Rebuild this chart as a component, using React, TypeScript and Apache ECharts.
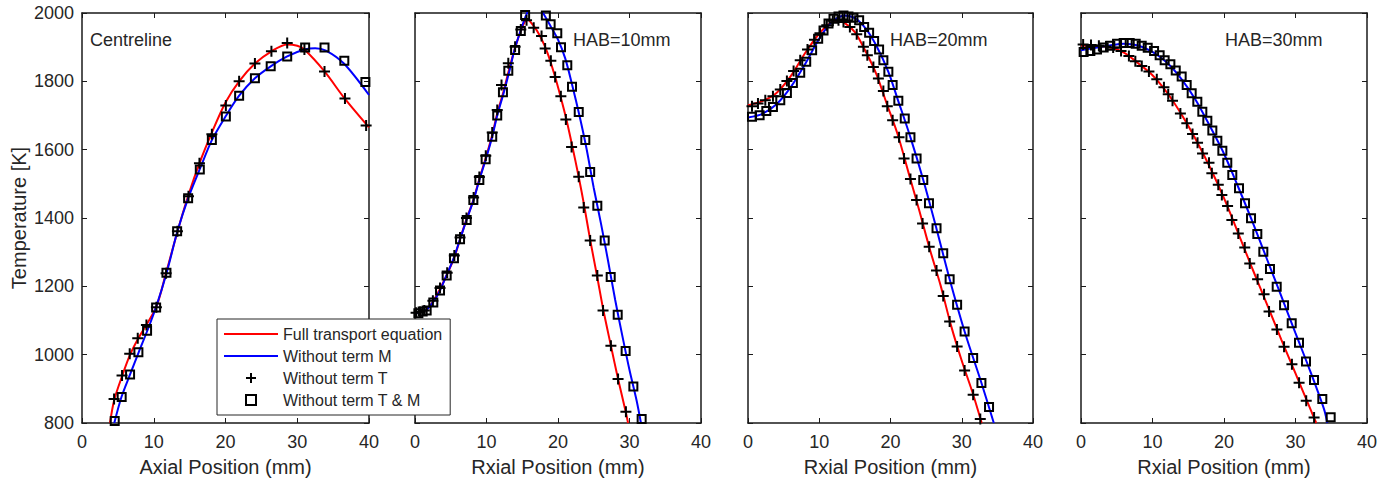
import { useEffect, useRef } from "react";
import * as echarts from "echarts";

const FONT = "'Liberation Sans', Arial, Helvetica, sans-serif";
const TEXT = "#262626";
const AXIS = "#1a1a1a";

const seriesNames = [
  "Full transport equation",
  "Without term M",
  "Without term T",
  "Without term T & M",
];
const panelTitles = ["Centreline", "HAB=10mm", "HAB=20mm", "HAB=30mm"];
const xAxisNames = [
  "Axial Position (mm)",
  "Rxial Position (mm)",
  "Rxial Position (mm)",
  "Rxial Position (mm)",
];
const yAxisName = "Temperature [K]";
const xRange = [0, 40];
const yRange = [800, 2000];

// ---- Centreline ----
const cRed = [[3.9,800],[4.5,868],[5.6,938],[6.7,1000],[7.8,1046],[9.0,1088],[10.4,1142],[11.7,1238],[13.3,1360],[14.8,1465],[16.4,1562],[18.1,1650],[20.0,1738],[21.9,1800],[24.1,1852],[26.4,1888],[28.6,1908],[30.0,1904],[31.0,1893],[33.8,1829],[36.6,1750],[40.0,1665]];
const cBlue = [[4.5,800],[5.5,876],[6.7,942],[7.9,1007],[9.1,1070],[10.3,1138],[11.8,1240],[13.3,1361],[14.8,1458],[16.4,1542],[18.1,1628],[20.0,1697],[21.9,1758],[24.1,1809],[26.3,1844],[28.6,1873],[31.0,1893],[32.5,1897],[34.0,1890],[36.5,1852],[40.0,1760]];
const cPlus = [[4.47,870],[5.58,939],[6.65,1003],[7.77,1048],[8.98,1087],[10.37,1139],[11.72,1238],[13.3,1361],[14.84,1464],[16.37,1560],[18.1,1645],[20.05,1729],[21.9,1800],[24.1,1852],[26.4,1888],[28.6,1912],[31.0,1893],[33.8,1829],[36.65,1750],[39.6,1671]];
const cSquare = [[4.56,806],[5.53,876],[6.7,942],[7.86,1007],[9.07,1070],[10.33,1138],[11.77,1240],[13.26,1361],[14.79,1458],[16.42,1542],[18.1,1628],[20.05,1697],[21.9,1758],[24.1,1809],[26.3,1844],[28.6,1873],[31.1,1899],[33.8,1899],[36.56,1860],[39.5,1798]];

// ---- HAB = 10 mm ----
const h10Red = [[0,1121],[1.5,1130],[2.5,1155],[3.5,1192],[4.5,1236],[5.5,1285],[6.3,1338],[7.2,1396],[8.2,1455],[9.0,1514],[9.9,1576],[10.8,1643],[11.5,1706],[12.4,1772],[13.2,1838],[14.0,1898],[14.8,1948],[15.7,1982],[16.5,1965],[17.5,1932],[18.5,1885],[19.5,1820],[20.4,1752],[21.2,1686],[22.0,1610],[22.9,1520],[23.7,1432],[24.5,1336],[25.5,1226],[26.3,1135],[27.4,1026],[28.4,929],[29.5,830],[29.8,800]];
const h10Blue = [[0,1121],[1.5,1130],[2.5,1153],[3.5,1188],[4.4,1232],[5.4,1282],[6.3,1338],[7.2,1394],[8.2,1453],[9.0,1511],[9.9,1572],[10.8,1638],[11.5,1700],[12.4,1766],[13.2,1830],[13.9,1891],[14.7,1944],[15.4,1986],[16.2,2020],[17.0,2025],[17.9,2000],[19.0,1960],[20.0,1922],[21.0,1868],[22.0,1788],[23.0,1700],[24.0,1602],[25.0,1488],[26.0,1385],[27.0,1275],[28.0,1160],[29.0,1055],[30.0,955],[31.0,865],[31.6,800]];
const h10Plus = [[0.15,1123],[0.7,1125],[1.3,1129],[2.5,1158],[3.5,1195],[4.5,1240],[5.5,1290],[6.3,1343],[7.2,1400],[8.2,1460],[9.0,1520],[9.9,1582],[10.8,1650],[11.5,1716],[12.1,1789],[13.05,1853],[14.0,1901],[14.8,1952],[15.6,1979],[16.6,1957],[17.7,1933],[18.2,1896],[19.0,1860],[19.6,1813],[20.4,1756],[21.1,1688],[21.9,1608],[22.9,1521],[23.6,1431],[24.5,1334],[25.5,1232],[26.3,1129],[27.4,1026],[28.4,929],[29.5,833]];
const h10Square = [[0.47,1121],[1.07,1126],[1.63,1129],[2.56,1153],[3.5,1188],[4.43,1232],[5.45,1282],[6.3,1338],[7.23,1394],[8.16,1453],[9.0,1511],[9.88,1572],[10.8,1638],[11.5,1700],[12.3,1768],[13.05,1831],[14.0,1892],[14.8,1947],[15.4,1994],[18.3,1993],[18.97,1967],[19.9,1941],[20.42,1900],[21.3,1847],[21.96,1784],[22.9,1710],[23.82,1628],[24.5,1535],[25.5,1436],[26.53,1334],[27.37,1227],[28.35,1117],[29.46,1011],[30.54,907],[31.7,812]];

// ---- HAB = 20 mm ----
const h20Red = [[0,1730],[2,1742],[4,1766],[6,1815],[8,1882],[10,1940],[11.5,1970],[12.5,1978],[13.5,1972],[15,1944],[16.5,1888],[18,1822],[19.5,1733],[21,1645],[22.5,1535],[24,1425],[25.5,1310],[27,1205],[28.5,1085],[30,982],[31.5,890],[32.8,800]];
const h20Blue = [[0,1694],[2,1705],[4,1733],[6,1783],[8,1850],[10,1925],[11.5,1968],[12.5,1985],[13.5,1993],[15,1985],[16.5,1955],[18,1905],[19.7,1828],[21,1748],[22.8,1636],[24.6,1511],[26.5,1365],[28.3,1221],[30.4,1068],[32.8,915],[34.5,800]];
const h20Plus = [[0.56,1727],[1.4,1735],[2.43,1745],[3.5,1756],[4.53,1776],[5.46,1801],[6.4,1830],[7.33,1862],[8.35,1893],[9.33,1922],[10.1,1941],[11.06,1964],[11.9,1977],[12.7,1979],[13.4,1974],[14.3,1959],[15.26,1938],[16.2,1901],[16.75,1876],[17.6,1842],[18.3,1808],[19.0,1772],[19.55,1727],[20.3,1686],[21.2,1636],[21.9,1574],[22.8,1514],[23.66,1453],[24.5,1384],[25.43,1316],[26.46,1246],[27.4,1172],[28.3,1097],[29.35,1024],[30.4,954],[31.6,883],[32.6,812]];
const h20Square = [[0.56,1696],[1.63,1701],[2.57,1713],[3.5,1725],[4.53,1745],[5.46,1766],[6.3,1795],[7.33,1825],[8.17,1857],[9.0,1891],[9.85,1925],[10.6,1949],[11.3,1969],[12.0,1983],[12.7,1990],[13.4,1993],[14.1,1990],[14.8,1986],[15.6,1979],[16.3,1959],[17.0,1942],[17.7,1918],[18.4,1893],[19.0,1862],[19.7,1828],[20.3,1789],[21.1,1743],[22.0,1691],[22.8,1636],[23.66,1574],[24.6,1511],[25.4,1443],[26.46,1370],[27.4,1297],[28.3,1221],[29.35,1146],[30.4,1068],[31.6,990],[32.76,917],[33.83,847]];

// ---- HAB = 30 mm ----
const h30Red = [[0,1905],[2,1904],[4,1900],[6,1884],[8,1853],[10,1818],[12,1768],[14,1705],[16,1632],[18,1550],[20,1458],[22,1355],[24,1250],[26,1148],[28,1045],[30,945],[32,845],[32.9,800]];
const h30Blue = [[0,1891],[2,1898],[4,1905],[6,1910],[8,1905],[10,1886],[12,1855],[14,1808],[16,1747],[18,1670],[20,1588],[22,1490],[24,1388],[26,1280],[28,1172],[30,1063],[32,955],[34,840],[34.45,800]];
const h30Plus = [[0.3,1908],[1.4,1906],[2.5,1904],[3.5,1902],[4.5,1899],[5.6,1889],[6.7,1874],[7.6,1859],[8.5,1845],[9.5,1829],[10.6,1806],[11.6,1783],[12.2,1762],[12.8,1743],[13.9,1706],[14.8,1677],[15.6,1646],[16.3,1620],[17.0,1589],[17.9,1562],[18.3,1531],[19.2,1497],[19.7,1467],[20.5,1435],[21.1,1394],[22.0,1355],[22.9,1314],[23.6,1267],[24.7,1221],[25.6,1177],[26.3,1126],[27.4,1074],[28.4,1023],[29.5,972],[30.5,918],[31.5,865],[32.6,816]];
const h30Square = [[0.37,1886],[1.31,1889],[2.24,1893],[3.17,1899],[4.1,1904],[5.04,1910],[5.97,1912],[6.81,1912],[7.65,1910],[8.49,1904],[9.33,1898],[10.22,1889],[11.0,1876],[11.7,1862],[12.5,1850],[13.25,1832],[14.08,1814],[14.78,1789],[15.48,1765],[16.27,1740],[16.97,1711],[17.67,1685],[18.37,1656],[19.07,1626],[19.77,1597],[20.46,1562],[21.16,1526],[22.1,1487],[22.94,1443],[23.78,1399],[24.66,1353],[25.5,1301],[26.43,1251],[27.37,1199],[28.4,1145],[29.47,1092],[30.49,1035],[31.47,980],[32.59,926],[33.75,870],[34.92,817]];

const panelData = [
  [cRed, cBlue, cPlus, cSquare],
  [h10Red, h10Blue, h10Plus, h10Square],
  [h20Red, h20Blue, h20Plus, h20Square],
  [h30Red, h30Blue, h30Plus, h30Square],
];

const PLUS = "path://M5,0V10M0,5H10";
const SQUARE = "path://M0,0H10V10H0Z";
const BAR = "path://M0,0H54V2H0Z";

export default function App() {
  const ref = useRef<HTMLDivElement>(null);
  useEffect(() => {
    if (!ref.current) return;
    const chart = echarts.init(ref.current, undefined, { renderer: "svg" });

    const lefts = [82, 415, 748, 1081];
    const widths = [287, 286, 285, 286];
    const titleLefts = [90, 573, 890, 1225];
    const top = 13;
    const height = 410;

    const grid: any[] = [];
    const xAxis: any[] = [];
    const yAxis: any[] = [];
    const series: any[] = [];
    const graphic: any[] = [];

    const tick = { show: true, inside: true, length: 5, lineStyle: { color: AXIS, width: 1 } };
    const line = { show: true, onZero: false, lineStyle: { color: AXIS, width: 1.5 } };
    const plain = (v: number) => String(v);

    for (let i = 0; i < 4; i++) {
      grid.push({ left: lefts[i], top, width: widths[i], height, show: false });
      xAxis.push({
        type: "value", gridIndex: i, position: "bottom", min: xRange[0], max: xRange[1], interval: 10,
        axisLine: line, axisTick: tick, splitLine: { show: false },
        axisLabel: { color: TEXT, fontSize: 18, fontFamily: FONT, margin: 10, formatter: plain },
        name: xAxisNames[i], nameLocation: "middle", nameGap: 34,
        nameTextStyle: { color: TEXT, fontSize: 20, fontFamily: FONT },
      });
      xAxis.push({
        type: "value", gridIndex: i, position: "top", min: xRange[0], max: xRange[1], interval: 10,
        axisLine: line, axisTick: tick, splitLine: { show: false }, axisLabel: { show: false },
      });
      yAxis.push({
        type: "value", gridIndex: i, position: "left", min: yRange[0], max: yRange[1], interval: 200,
        axisLine: line, axisTick: tick, splitLine: { show: false },
        axisLabel: { show: i === 0, color: TEXT, fontSize: 18, fontFamily: FONT, margin: 8, formatter: plain },
        name: i === 0 ? yAxisName : "", nameLocation: "middle", nameGap: 53,
        nameTextStyle: { color: TEXT, fontSize: 20, fontFamily: FONT },
      });
      yAxis.push({
        type: "value", gridIndex: i, position: "right", min: yRange[0], max: yRange[1], interval: 200,
        axisLine: line, axisTick: tick, splitLine: { show: false }, axisLabel: { show: false },
      });

      const [red, blue, plus, square] = panelData[i];
      const ax = { xAxisIndex: i * 2, yAxisIndex: i * 2 };
      series.push({
        ...ax, type: "line", name: seriesNames[0], data: red, symbol: "none", showSymbol: false, smooth: 0.3,
        lineStyle: { color: "#ff0000", width: 2 }, itemStyle: { color: "#ff0000" }, clip: true, z: 2,
      });
      series.push({
        ...ax, type: "line", name: seriesNames[1], data: blue, symbol: "none", showSymbol: false, smooth: 0.3,
        lineStyle: { color: "#0000ff", width: 2 }, itemStyle: { color: "#0000ff" }, clip: true, z: 2,
      });
      series.push({
        ...ax, type: "scatter", name: seriesNames[2], data: plus, symbol: PLUS, symbolSize: 11,
        itemStyle: { color: "transparent", borderColor: "#000", borderWidth: 2, opacity: 1 }, z: 3,
      });
      series.push({
        ...ax, type: "scatter", name: seriesNames[3], data: square, symbol: SQUARE, symbolSize: 8,
        itemStyle: { color: "transparent", borderColor: "#000", borderWidth: 2, opacity: 1 }, z: 3,
      });

      graphic.push({
        type: "text", left: titleLefts[i], top: 31, z: 10,
        style: { text: panelTitles[i], fontSize: 18, fontFamily: FONT, fill: TEXT },
      });
    }

    chart.setOption({
      animation: false,
      backgroundColor: "#ffffff",
      grid, xAxis, yAxis, series, graphic,
      legend: {
        show: true, left: 217, top: 319, orient: "vertical", z: 20,
        backgroundColor: "#ffffff", borderColor: TEXT, borderWidth: 1,
        padding: [7, 8, 7, 7], itemWidth: 54, itemHeight: 10, itemGap: 6,
        textStyle: { color: TEXT, fontSize: 16, fontFamily: FONT },
        data: [
          { name: seriesNames[0], icon: BAR, itemStyle: { color: "#ff0000", borderWidth: 0 } },
          { name: seriesNames[1], icon: BAR, itemStyle: { color: "#0000ff", borderWidth: 0 } },
          { name: seriesNames[2], icon: PLUS, itemStyle: { color: "transparent", borderColor: "#000", borderWidth: 2 } },
          { name: seriesNames[3], icon: SQUARE, itemStyle: { color: "transparent", borderColor: "#000", borderWidth: 2 } },
        ],
      },
    });
    return () => chart.dispose();
  }, []);
  return (
    <div
      ref={ref}
      style={{ position: "fixed", left: 0, top: 0, width: 1398, height: 484, background: "#fff" }}
    />
  );
}
